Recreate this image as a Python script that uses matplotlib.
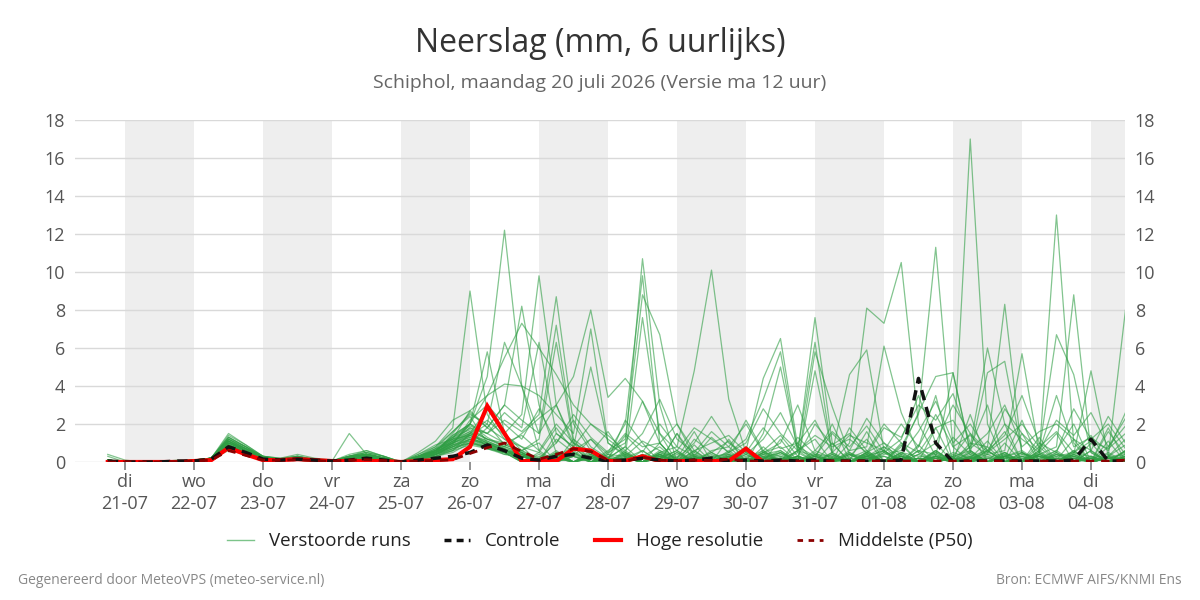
import numpy as np
import pandas as pd
import matplotlib
matplotlib.use('Agg')
import matplotlib.pyplot as plt
from matplotlib.lines import Line2D

plt.rcParams['font.family'] = ['Open Sans', 'DejaVu Sans']

# ---------------- data ----------------
start_time = '2026-07-20 18:00'
n_steps = 60            # 6-hourly values
tick_days = ['di', 'wo', 'do', 'vr', 'za', 'zo', 'ma', 'di', 'wo', 'do', 'vr', 'za', 'zo', 'ma', 'di']
tick_dates = ['21-07', '22-07', '23-07', '24-07', '25-07', '26-07', '27-07', '28-07',
              '29-07', '30-07', '31-07', '01-08', '02-08', '03-08', '04-08']
y_ticks = [0, 2, 4, 6, 8, 10, 12, 14, 16, 18]

run_01 = [0.4,0.1,0,0,0,0.05,0.2,1.2,0.8,0.2,0.1,0.3,
          0.1,0.05,0.3,0.5,0.2,0,0.3,0.8,1.8,9.0,2.5,1.2,
          0.5,0.0,1.5,0.8,0.0,0.1,2.2,1.0,0.0,0.2,1.6,0.0,
          0.0,0.1,0.0,1.2,0.0,0.2,2.0,0.1,1.6,0.0,0.3,0.0,
          0.0,1.3,0.4,0.0,1.0,0.0,0.1,0.6,2.0,0.0,0.3,1.2]
run_02 = [0.05,0,0,0,0.05,0.1,0.2,1.4,0.9,0.3,0.1,0.2,
          0.1,0,0.2,0.4,0.2,0,0.2,0.5,1.0,2.0,4.5,12.2,
          4.0,0.6,0.0,1.2,0.0,0.1,0.0,0.4,0.0,1.5,0.0,0.3,
          0.0,0.4,0.0,0.1,0.6,1.2,0.0,0.2,0.0,0.5,0.0,0.8,
          3.5,0.0,0.2,1.1,0.0,0.1,0.5,1.5,0.0,0.2,0.0,0.2]
run_03 = [0.3,0,0,0,0,0.05,0.15,0.9,0.5,0.2,0.1,0.15,
          0.1,0.05,0.4,0.6,0.3,0,0.5,1.1,2.2,2.7,1.8,3.0,
          8.2,3.0,0.5,0.3,1.2,0.2,0.0,0.3,0.8,0.0,0.1,0.5,
          1.1,0.0,0.2,0.6,0.0,0.1,0.0,1.8,0.6,0.0,0.9,0.0,
          1.8,0.0,0.1,0.6,0.0,1.5,0.0,0.2,0.0,1.0,0.0,0.2]
run_04 = [0.05,0,0,0,0.05,0.05,0.2,1.1,0.7,0.3,0.2,0.4,
          0.2,0.1,0.2,0.3,0.1,0,0.2,0.6,1.4,2.0,3.5,5.5,
          7.3,6.0,4.6,3.0,2.0,1.2,0.5,0.0,0.4,0.0,0.6,0.0,
          0.1,0.0,0.8,0.0,0.3,0.0,0.2,0.0,0.4,0.0,1.0,0.0,
          0.2,0.0,2.5,0.0,0.3,0.0,1.3,0.0,0.1,0.0,1.8,0.0]
run_05 = [0.05,0,0,0,0,0.05,0.1,0.8,0.5,0.15,0.1,0.1,
          0.05,0,0.1,0.2,0.1,0,0.1,0.3,0.6,1.5,2.8,1.5,
          2.5,9.8,3.0,1.0,0.0,0.2,0.8,0.0,0.2,0.0,0.2,0.1,
          0.0,0.2,0.0,0.2,0.1,0.0,1.0,0.0,0.3,0.1,0.0,0.9,
          0.0,0.2,0.8,3.0,0.0,0.2,0.1,0.0,0.6,0.0,0.8,2.3]
run_06 = [0.1,0,0,0,0.1,0.05,0.2,1.3,0.8,0.25,0.15,0.3,
          0.1,0.05,0.2,0.4,0.2,0,0.4,0.9,1.2,1.8,1.5,2.2,
          1.6,2.5,8.7,2.0,0.6,0.0,0.2,0.0,1.0,0.0,0.2,0.0,
          0.2,0.6,0.0,0.1,0.0,0.5,0.0,0.3,1.2,0.0,0.2,0.0,
          0.3,4.7,0.5,0.0,0.4,0.0,1.0,0.0,0.5,1.4,0.0,0.6]
run_07 = [0.05,0,0,0,0.05,0.1,0.15,1.0,0.6,0.2,0.1,0.2,
          0.1,0.05,0.3,0.4,0.2,0,0.2,0.4,0.8,1.2,1.0,0.8,
          1.5,2.3,3.0,4.5,8.0,3.4,4.4,3.2,1.0,0.0,0.2,0.0,
          0.3,0.0,0.4,0.0,0.6,0.0,0.1,0.0,0.5,1.0,0.0,0.2,
          0.0,0.2,0.0,0.8,0.0,0.5,0.0,0.1,1.2,0.0,0.2,0.0]
run_08 = [0.1,0,0,0,0,0.05,0.2,1.2,0.7,0.2,0.1,0.2,
          0.1,0,0.2,0.3,0.1,0,0.3,0.7,1.6,2.4,1.0,0.6,
          0.4,0.0,1.2,0.5,0.0,0.2,0.8,10.7,3.0,0.0,0.2,0.0,
          0.6,0.0,0.1,0.0,1.0,0.0,0.2,0.0,0.3,0.8,0.0,0.4,
          1.0,0.0,0.2,0.0,0.2,2.2,0.0,0.2,0.0,0.6,0.0,0.2]
run_09 = [0.05,0,0,0,0.05,0.05,0.1,0.9,0.5,0.2,0.1,0.1,
          0.05,0.05,0.1,0.2,0.1,0,0.1,0.3,0.5,1.0,1.8,1.2,
          0.8,0.0,0.3,0.6,0.0,0.5,2.0,9.8,1.0,0.0,0.2,0.0,
          0.2,0.8,0.0,0.2,0.0,0.3,0.0,0.2,0.6,0.0,0.1,0.0,
          0.3,0.0,0.6,0.0,0.3,0.0,0.8,0.0,0.2,0.0,1.1,0.0]
run_10 = [0.1,0,0,0,0.05,0.1,0.2,1.1,0.6,0.2,0.15,0.25,
          0.1,0.05,0.2,0.3,0.2,0,0.2,0.5,1.1,1.6,0.8,0.6,
          0.5,0.0,0.3,0.8,0.0,0.6,1.2,8.8,6.7,2.0,0.3,0.0,
          0.1,0.0,0.2,0.5,0.0,0.1,0.0,0.4,0.0,0.1,0.0,0.6,
          0.0,0.4,0.0,0.2,0.5,0.0,0.2,0.0,0.4,0.0,0.3,0.9]
run_11 = [0.05,0,0,0,0,0.05,0.15,0.7,0.4,0.15,0.1,0.15,
          0.1,0,0.3,0.4,0.2,0,0.3,0.6,1.2,1.4,2.0,0.9,
          0.6,1.0,0.0,0.3,0.0,0.4,0.3,7.6,1.5,0.0,0.2,0.0,
          0.4,0.0,0.6,0.0,0.2,0.0,0.1,0.0,0.3,0.6,0.0,0.1,
          0.0,0.3,1.5,0.0,0.4,0.0,0.1,0.0,0.3,0.0,0.2,0.4]
run_12 = [0.1,0,0,0,0.05,0.05,0.2,1.0,0.6,0.2,0.1,0.2,
          0.1,0.05,0.2,0.3,0.1,0,0.1,0.4,0.6,1.2,0.9,0.6,
          0.4,0.0,0.5,0.0,0.6,0.0,0.2,0.0,0.5,0.8,4.8,10.1,
          3.3,0.5,0.0,0.4,0.0,0.3,0.0,0.2,0.0,0.3,0.0,0.2,
          0.0,0.2,0.0,0.6,0.0,0.1,0.3,0.0,0.2,0.0,0.3,0.0]
run_13 = [0.05,0,0,0,0,0.05,0.1,0.8,0.5,0.15,0.1,0.15,
          0.05,0,0.1,0.3,0.1,0,0.2,0.4,0.9,1.1,0.7,0.5,
          0.3,0.0,0.4,0.0,0.3,0.0,0.2,0.0,0.6,0.0,0.9,0.0,
          0.3,0.6,4.4,6.5,0.8,0.0,0.2,0.0,0.2,0.0,0.3,0.0,
          0.2,0.0,0.3,0.0,0.5,0.0,0.6,0.0,0.4,0.0,0.2,0.0]
run_14 = [0.1,0,0,0,0.05,0.1,0.2,1.1,0.7,0.25,0.1,0.2,
          0.1,0.05,0.2,0.4,0.2,0,0.3,0.7,1.0,2.0,1.3,0.8,
          0.5,0.0,0.6,0.0,0.2,0.0,0.4,0.0,0.2,0.6,0.0,0.2,
          0.5,1.2,3.3,5.8,0.5,7.6,1.0,0.0,0.2,0.0,0.1,0.0,
          0.6,0.0,0.4,0.0,0.2,0.0,0.3,0.0,0.6,0.0,0.2,0.0]
run_15 = [0.05,0,0,0,0,0.05,0.15,0.9,0.6,0.2,0.1,0.15,
          0.1,0,0.15,0.3,0.15,0,0.2,0.5,0.8,1.4,1.1,0.7,
          0.0,0.5,0.0,0.4,0.0,0.2,0.0,0.6,0.0,0.4,0.0,0.6,
          0.8,0.0,1.5,5.0,0.6,6.3,0.4,0.0,0.3,0.0,0.5,0.0,
          0.3,0.0,0.2,0.0,0.3,0.0,0.4,0.0,0.3,0.0,0.2,0.0]
run_16 = [0.1,0,0,0,0.05,0.05,0.2,1.3,0.8,0.3,0.15,0.3,
          0.15,0.05,0.3,0.5,0.3,0,0.2,0.6,1.3,1.7,1.2,1.0,
          0.6,0.0,0.2,0.0,0.4,0.0,0.2,0.0,0.4,0.0,0.6,0.0,
          0.2,0.0,0.5,0.8,0.0,5.8,2.9,0.4,0.0,0.6,0.0,0.2,
          0.0,0.3,0.0,0.2,0.0,0.3,0.0,0.5,0.0,0.2,0.0,0.3]
run_17 = [0.05,0,0,0,0,0.05,0.1,0.7,0.4,0.15,0.1,0.1,
          0.05,0,0.1,0.2,0.1,0,0.1,0.3,0.7,1.0,0.8,0.4,
          0.3,0.0,0.4,0.0,0.2,0.0,0.3,0.0,0.5,0.0,0.2,0.0,
          0.3,0.0,0.4,0.6,0.0,4.8,0.5,4.6,5.9,0.6,0.0,0.2,
          0.0,0.2,0.0,0.4,0.0,0.5,0.0,0.2,0.0,0.3,0.0,0.6]
run_18 = [0.1,0,0,0,0.05,0.1,0.2,1.0,0.6,0.2,0.1,0.2,
          0.1,0.05,0.2,0.3,0.2,0,0.2,0.5,1.0,1.3,0.9,0.7,
          0.0,0.3,0.0,0.5,0.0,0.2,0.0,0.3,0.0,0.2,0.0,0.5,
          0.0,0.4,0.0,0.2,0.0,0.3,0.0,1.0,8.1,7.3,10.5,2.0,
          0.3,0.0,0.2,0.0,0.3,0.0,0.4,0.0,0.2,0.0,0.3,0.0]
run_19 = [0.05,0,0,0,0,0.05,0.15,0.8,0.5,0.2,0.1,0.15,
          0.1,0,0.2,0.3,0.1,0,0.2,0.4,0.9,1.2,0.8,0.5,
          0.0,0.4,0.0,0.3,0.0,0.2,0.0,0.4,0.0,0.5,0.0,0.2,
          0.0,0.2,0.0,0.5,0.0,0.4,0.0,0.6,0.8,6.1,2.6,0.5,
          0.0,0.2,0.0,0.3,0.0,0.2,0.0,0.4,0.0,0.6,0.0,0.2]
run_20 = [0.1,0,0,0,0.05,0.05,0.2,1.2,0.7,0.2,0.15,0.25,
          0.1,0.05,0.25,0.4,0.2,0,0.3,0.6,1.1,1.5,1.0,0.6,
          0.3,0.0,0.2,0.0,0.3,0.0,0.5,0.0,0.4,0.0,0.3,0.0,
          0.3,0.0,0.5,0.0,0.2,0.0,0.2,0.0,0.5,0.0,0.8,2.5,
          11.3,0.8,0.0,0.2,0.0,0.3,0.0,0.4,0.0,0.2,0.0,0.3]
run_21 = [0.05,0,0,0,0,0.05,0.1,0.9,0.5,0.15,0.1,0.15,
          0.05,0,0.15,0.3,0.15,0,0.2,0.4,0.8,1.0,0.7,0.5,
          0.0,0.2,0.0,0.5,0.0,0.3,0.0,0.2,0.0,0.5,0.0,0.3,
          0.0,0.5,0.0,0.2,0.0,0.3,0.0,0.5,0.0,0.4,0.6,2.6,
          4.5,4.7,0.6,0.0,0.2,0.0,0.3,0.0,0.4,0.0,0.2,0.0]
run_22 = [0.1,0,0,0,0.05,0.1,0.2,1.1,0.6,0.2,0.1,0.2,
          0.1,0.05,0.2,0.4,0.2,0,0.2,0.5,1.0,1.4,1.0,0.7,
          0.5,0.0,0.4,0.0,0.3,0.0,0.2,0.0,0.3,0.0,0.4,0.0,
          0.2,0.0,0.2,0.0,0.3,0.0,0.5,0.0,0.2,0.0,0.3,0.0,
          0.5,0.0,17.0,2.0,0.0,0.3,0.0,0.5,0.0,0.2,0.0,0.3]
run_23 = [0.05,0,0,0,0,0.05,0.15,0.8,0.5,0.2,0.1,0.15,
          0.1,0,0.2,0.3,0.1,0,0.2,0.4,0.7,1.1,0.8,0.5,
          0.0,0.2,0.0,0.3,0.0,0.4,0.0,0.2,0.0,0.3,0.0,0.4,
          0.0,0.2,0.0,0.3,0.0,0.2,0.0,0.4,0.0,0.5,0.0,0.6,
          0.4,0.0,0.8,6.0,2.0,0.0,0.4,0.0,0.3,0.0,0.2,0.0]
run_24 = [0.1,0,0,0,0.05,0.05,0.2,1.0,0.6,0.2,0.1,0.2,
          0.1,0.05,0.2,0.3,0.2,0,0.3,0.5,0.9,1.3,0.9,0.6,
          0.4,0.0,0.2,0.0,0.3,0.0,0.2,0.0,0.4,0.0,0.5,0.0,
          0.2,0.0,0.3,0.0,0.3,0.0,0.2,0.0,0.4,0.0,0.3,0.0,
          0.3,0.0,1.0,0.8,8.3,0.4,0.0,0.3,0.0,0.2,0.0,0.3]
run_25 = [0.05,0,0,0,0,0.05,0.1,0.7,0.4,0.15,0.1,0.1,
          0.05,0,0.1,0.2,0.1,0,0.1,0.3,0.6,0.9,0.7,0.4,
          0.3,0.0,0.3,0.0,0.4,0.0,0.2,0.0,0.3,0.0,0.3,0.0,
          0.2,0.0,0.5,0.0,0.3,0.0,0.2,0.0,0.3,0.0,0.4,0.0,
          0.6,0.0,0.5,4.7,5.3,0.5,0.0,0.2,0.0,0.3,0.0,0.2]
run_26 = [0.1,0,0,0,0.05,0.1,0.2,1.2,0.7,0.25,0.1,0.2,
          0.1,0.05,0.2,0.4,0.2,0,0.2,0.6,1.2,1.6,1.2,0.8,
          0.5,0.0,0.4,0.0,0.5,0.0,0.2,0.0,0.3,0.0,0.2,0.0,
          0.4,0.0,0.3,0.0,0.2,0.0,0.4,0.0,0.5,0.0,0.2,0.0,
          0.3,0.0,0.2,0.4,0.6,5.7,0.5,0.0,0.2,0.0,0.3,0.0]
run_27 = [0.05,0,0,0,0,0.05,0.15,0.9,0.5,0.2,0.1,0.15,
          0.1,0,0.15,0.3,0.15,0,0.2,0.4,0.8,1.2,0.9,0.5,
          0.4,0.0,0.3,0.0,0.2,0.0,0.4,0.0,0.3,0.0,0.2,0.0,
          0.3,0.0,0.4,0.0,0.2,0.0,0.3,0.0,0.4,0.0,0.5,0.0,
          0.4,0.0,0.2,0.0,0.3,0.0,0.4,13.0,1.0,0.0,0.5,0.0]
run_28 = [0.1,0,0,0,0.05,0.05,0.2,1.1,0.6,0.2,0.15,0.2,
          0.1,0.05,0.2,0.3,0.2,0,0.3,0.5,1.0,1.4,1.0,0.6,
          0.3,0.0,0.2,0.0,0.3,0.0,0.5,0.0,0.2,0.0,0.3,0.0,
          0.5,0.0,0.2,0.0,0.3,0.0,0.5,0.0,0.2,0.0,0.3,0.0,
          0.2,0.0,0.3,0.0,0.5,0.0,0.6,6.7,4.6,0.5,0.0,0.4]
run_29 = [0.05,0,0,0,0,0.05,0.1,0.8,0.5,0.15,0.1,0.15,
          0.05,0,0.1,0.2,0.1,0,0.1,0.4,0.7,1.0,0.8,0.5,
          0.3,0.0,0.4,0.0,0.2,0.0,0.3,0.0,0.4,0.0,0.2,0.0,
          0.2,0.0,0.3,0.0,0.5,0.0,0.2,0.0,0.3,0.0,0.4,0.0,
          0.5,0.0,0.2,0.0,0.3,0.0,0.4,0.8,8.8,0.5,0.0,0.2]
run_30 = [0.1,0,0,0,0.05,0.1,0.2,1.0,0.6,0.2,0.1,0.25,
          0.1,0.05,0.25,0.4,0.2,0,0.2,0.6,1.1,1.5,1.1,0.7,
          0.4,0.0,0.5,0.0,0.4,0.0,0.2,0.0,0.3,0.0,0.4,0.0,
          0.3,0.0,0.2,0.0,0.3,0.0,0.4,0.0,0.5,0.0,0.3,0.0,
          0.3,0.0,0.5,0.0,0.3,0.0,0.5,0.0,0.4,4.8,0.3,8.0]
run_31 = [0.05,0,0,0,0,0.05,0.15,0.9,0.5,0.2,0.1,0.15,
          0.1,0.05,1.5,0.4,0.2,0,0.2,0.5,1.4,2.0,5.8,1.5,
          0.6,1.2,6.3,1.0,0.4,0.0,0.6,0.0,0.4,0.0,1.2,0.5,
          0.0,0.2,0.6,0.0,1.3,0.4,0.0,0.5,0.0,0.8,0.3,0.0,
          0.6,0.0,0.2,0.5,1.6,0.0,0.2,0.6,0.0,0.2,0.4,0.0]
run_32 = [0.1,0,0,0,0.05,0.05,0.2,1.3,0.8,0.3,0.15,0.3,
          0.1,0.05,0.3,0.6,0.3,0,0.4,0.8,1.6,2.5,2.0,6.3,
          4.0,1.5,7.2,1.2,0.5,0.0,0.2,0.6,0.0,1.5,0.3,0.0,
          1.2,0.0,0.2,0.5,0.0,0.6,0.2,0.0,0.3,0.6,0.0,0.4,
          0.0,0.5,0.2,0.0,0.3,0.6,0.0,0.3,0.5,0.0,1.6,0.4]
run_33 = [0.05,0,0,0,0,0.05,0.1,0.8,0.5,0.15,0.1,0.2,
          0.1,0,0.2,0.3,0.1,0,0.3,0.6,1.2,2.7,3.5,4.1,
          4.0,3.5,2.5,1.5,7.0,1.0,0.4,0.0,0.5,0.2,0.0,0.3,
          0.4,0.0,0.5,0.3,0.0,0.4,0.3,0.0,0.2,0.3,0.0,0.2,
          0.0,0.3,0.6,0.0,0.3,0.5,0.0,0.4,0.3,0.0,0.2,0.5]
run_34 = [0.1,0,0,0,0.05,0.1,0.2,1.5,0.9,0.3,0.2,0.3,
          0.15,0.05,0.3,0.5,0.3,0,0.2,0.7,1.3,1.9,1.5,2.6,
          1.8,6.3,1.5,0.8,5.0,1.0,0.3,0.0,0.2,0.6,0.0,0.2,
          0.0,0.3,0.2,0.0,0.6,0.3,0.0,0.4,0.3,0.0,0.5,0.3,
          0.2,0.0,0.3,0.6,0.0,0.4,0.3,0.0,0.5,0.3,0.0,0.6]
run_35 = [0.05,0,0,0,0,0.05,0.15,0.6,0.4,0.15,0.1,0.1,
          0.05,0,0.2,0.3,0.1,0,0.1,0.4,0.9,2.2,3.0,2.0,
          1.2,2.8,1.0,2.5,1.3,0.5,1.0,3.2,1.5,0.6,1.8,1.2,
          0.5,1.0,2.8,1.5,0.6,1.4,0.8,1.2,0.5,2.0,1.0,0.5,
          1.8,2.2,0.7,1.5,3.0,0.8,1.6,2.0,1.2,0.6,2.4,1.0]
run_36 = [0.1,0,0,0,0.05,0.05,0.2,1.0,0.7,0.2,0.1,0.2,
          0.1,0.05,0.3,0.4,0.2,0,0.2,0.5,1.5,2.6,1.8,3.0,
          2.2,1.5,3.0,0.8,2.0,1.4,0.6,1.5,3.3,1.2,0.5,1.6,
          0.8,2.0,0.5,1.0,3.0,0.6,1.6,0.8,1.9,0.5,1.2,3.5,
          1.0,3.0,1.5,0.6,2.0,1.2,0.5,3.5,0.8,1.3,0.6,2.6]
run_37 = [0.05,0,0,0,0,0.05,0.1,0.9,0.5,0.2,0.1,0.15,
          0.1,0,0.2,0.3,0.1,0,0.2,0.4,1.0,1.5,2.2,1.4,
          0.8,0.5,1.8,0.6,1.2,0.4,1.5,0.8,1.0,2.0,0.6,1.0,
          1.4,0.5,1.8,0.7,1.0,2.2,0.5,1.4,1.0,0.6,2.0,0.8,
          2.5,0.8,1.4,0.5,1.2,2.0,0.8,1.6,0.5,1.1,0.7,1.5]
run_38 = [0.05,0,0,0,0,0.05,0.1,0.8,0.5,0.2,0.1,0.2,
          0.1,0,0.2,0.3,0.1,0,0.2,0.5,1.1,1.8,1.2,0.9,
          0.6,0.2,1.0,2.2,0.8,0.2,1.4,0.5,2.0,0.8,0.3,1.3,
          0.5,2.2,0.6,1.4,0.3,2.0,0.9,1.5,0.4,1.8,1.3,3.0,
          2.2,3.6,1.0,0.4,2.8,1.5,0.6,2.2,1.4,2.6,0.8,1.9]
run_39 = [0.1,0,0,0,0.05,0.05,0.2,1.1,0.6,0.2,0.1,0.2,
          0.1,0.05,0.2,0.4,0.2,0,0.3,0.6,1.3,2.0,1.5,1.0,
          1.4,0.6,2.0,1.0,0.5,1.6,0.3,1.1,0.6,0.2,1.0,2.4,
          1.0,0.4,1.2,2.6,0.8,0.3,1.5,0.6,2.3,1.0,0.4,1.6,
          3.2,1.0,2.0,0.6,1.4,3.5,1.0,0.5,2.8,1.2,2.0,0.7]

runs = [run_01, run_02, run_03, run_04, run_05, run_06, run_07, run_08, run_09, run_10,
        run_11, run_12, run_13, run_14, run_15, run_16, run_17, run_18, run_19, run_20,
        run_21, run_22, run_23, run_24, run_25, run_26, run_27, run_28, run_29, run_30,
        run_31, run_32, run_33, run_34, run_35, run_36, run_37, run_38, run_39]

controle = [0.05,0,0,0,0.05,0.05,0.15,0.8,0.5,0.15,0.1,0.15,
            0.1,0.05,0.1,0.2,0.1,0,0.1,0.2,0.3,0.5,0.9,0.6,
            0.2,0.1,0.3,0.4,0.2,0.05,0.1,0.2,0.1,0.05,0.1,0.2,
            0.05,0.1,0.05,0.1,0.05,0.1,0.05,0.05,0.05,0.05,0.1,4.4,
            1.0,0.0,0.05,0.05,0.05,0.05,0.05,0.05,0.1,1.2,0.05,0.05]

hoge_resolutie = [0,0,0,0,0,0.05,0.1,0.75,0.4,0.1,0.1,0.15,
                  0.1,0.05,0.05,0.05,0.05,0,0.05,0.1,0.15,0.8,2.95,1.5,
                  0.05,0.05,0.05,0.7,0.6,0.05,0.05,0.3,0.05,0.05,0.05,0.05,
                  0.05,0.7,0.0]

p50 = [0,0,0,0,0.02,0.05,0.1,0.6,0.35,0.1,0.1,0.12,
       0.08,0.03,0.1,0.12,0.08,0,0.05,0.08,0.12,0.45,0.75,1.0,
       0.55,0.15,0.4,0.7,0.55,0.1,0.05,0.25,0.1,0.05,0.1,0.08,
       0.15,0.05,0.05,0.05,0.05,0.05,0.05,0.05,0.05,0.05,0.05,0.05,
       0.05,0.05,0.05,0.05,0.05,0.05,0.05,0.05,0.05,0.05,0.05,0.1]

# ---------------- figure ----------------
times = pd.date_range(start_time, periods=n_steps, freq='6h')
tick_pos = pd.date_range('2026-07-21', periods=len(tick_dates), freq='D')

fig = plt.figure(figsize=(12, 6), dpi=100)
ax = fig.add_axes([0.0625, 0.23, 0.875, 0.57])

# alternating day bands
for k in range(0, len(tick_pos), 2):
    t0 = tick_pos[k]
    t1 = t0 + pd.Timedelta(days=1)
    ax.axvspan(t0, t1, color='#eeeeee', zorder=0, lw=0)

ens_color = '#2f9e44'
for r in runs:
    ax.plot(times, r, color=ens_color, lw=0.9, alpha=0.6, zorder=2)

ax.plot(times[:len(hoge_resolutie)], hoge_resolutie, color='#ff0000', lw=3, zorder=3,
        solid_joinstyle='miter')
ax.plot(times, controle, color='#111111', lw=2.5, ls=(0, (3, 2)), zorder=4)
ax.plot(times, p50, color='#8b0000', lw=2, ls=(0, (3, 2.5)), zorder=5)

ax.set_ylim(0, 18)
ax.set_yticks(y_ticks)
ax.set_xlim(pd.Timestamp('2026-07-20 06:36'), pd.Timestamp('2026-08-04 11:50'))
ax.set_xticks(tick_pos)
ax.set_xticklabels([f'{d}\n{t}' for d, t in zip(tick_days, tick_dates)], linespacing=1.3)

ax.yaxis.grid(True, color='#d9d9d9', lw=1, zorder=1)
ax.set_axisbelow(True)
for s in ax.spines.values():
    s.set_visible(False)

ax.tick_params(axis='y', length=0, labelsize=13, labelcolor='#555555',
               labelleft=True, labelright=True, pad=7)
ax.tick_params(axis='x', length=6, width=1.3, color='#888888', labelsize=13,
               labelcolor='#555555', pad=2)

fig.text(0.5, 0.928, 'Neerslag (mm, 6 uurlijks)', ha='center', va='center',
         fontsize=23, color='#333333')
fig.text(0.5, 0.861, 'Schiphol, maandag 20 juli 2026 (Versie ma 12 uur)', ha='center',
         va='center', fontsize=14, color='#666666')

handles = [
    Line2D([], [], color='#7cc48a', lw=1),
    Line2D([], [], color='#111111', lw=2.5, ls=(0, (2, 1.5))),
    Line2D([], [], color='#ff0000', lw=3),
    Line2D([], [], color='#8b0000', lw=2, ls=(0, (2, 2))),
]
labels = ['Verstoorde runs', 'Controle', 'Hoge resolutie', 'Middelste (P50)']
fig.legend(handles, labels, loc='center', bbox_to_anchor=(0.5, 0.098), ncol=4,
           frameon=False, fontsize=13.5, handlelength=1.4, columnspacing=1.8,
           handletextpad=0.8, labelcolor='#222222')

fig.text(0.015, 0.033, 'Gegenereerd door MeteoVPS (meteo-service.nl)', ha='left',
         va='center', fontsize=10, color='#888888')
fig.text(0.985, 0.033, 'Bron: ECMWF AIFS/KNMI Ens', ha='right', va='center',
         fontsize=10, color='#888888')

fig.savefig('out.png', dpi=100)
